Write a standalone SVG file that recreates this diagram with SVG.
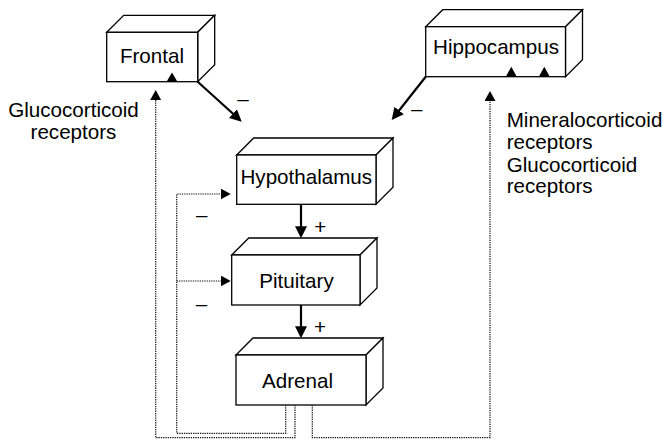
<svg xmlns="http://www.w3.org/2000/svg" width="665" height="440" viewBox="0 0 665 440">
  <style>
    .face { fill: #fff; stroke: #000; stroke-width: 1.3; stroke-linejoin: miter; }
    .label { font-family: "Liberation Sans", Arial, sans-serif; font-size: 20.6px; fill: #000; }
    .note { font-family: "Liberation Sans", Arial, sans-serif; font-size: 20.6px; fill: #000; }
    .solid { fill: none; stroke: #000; stroke-width: 2.2; }
    .dotted { fill: none; stroke: #111; stroke-width: 1.2; stroke-dasharray: 1.3 1; }
    .receptor { fill: #000; }
  </style>
  <defs>
    <marker id="headSolid" markerUnits="userSpaceOnUse" markerWidth="12" markerHeight="12" refX="1" refY="6" orient="auto">
      <path d="M0,0 L12,6 L0,12 z" fill="#000"/>
    </marker>
    <marker id="headDotted" markerUnits="userSpaceOnUse" markerWidth="10" markerHeight="11" refX="1" refY="5.5" orient="auto">
      <path d="M0,0 L10,5.5 L0,11 z" fill="#000"/>
    </marker>
  </defs>

  <!-- Frontal -->
  <g id="frontal">
    <polygon class="face" points="106.7,32.3 123.7,15.3 214.7,15.3 197.7,32.3"/>
    <polygon class="face" points="197.7,32.3 214.7,15.3 214.7,64.7 197.7,81.7"/>
    <rect class="face" x="106.7" y="32.3" width="91" height="49.4"/>
    <text class="label" x="152" y="62.5" text-anchor="middle">Frontal</text>
    <polygon class="receptor" points="166.5,81.7 172,72.5 177.5,81.7"/>
  </g>

  <!-- Hippocampus -->
  <g id="hippocampus">
    <polygon class="face" points="425.7,26.7 442.7,9.7 582.5,9.7 565.5,26.7"/>
    <polygon class="face" points="565.5,26.7 582.5,9.7 582.5,59.7 565.5,76.7"/>
    <rect class="face" x="425.7" y="26.7" width="139.8" height="50"/>
    <text class="label" x="496" y="53.5" text-anchor="middle">Hippocampus</text>
    <polygon class="receptor" points="505.8,76.7 511.3,66.7 516.8,76.7"/>
    <polygon class="receptor" points="538.8,76.7 544.3,66.7 549.8,76.7"/>
  </g>

  <!-- Hypothalamus -->
  <g id="hypothalamus">
    <polygon class="face" points="236.7,155 253.7,138 393,138 376,155"/>
    <polygon class="face" points="376,155 393,138 393,187.3 376,204.3"/>
    <rect class="face" x="236.7" y="155" width="139.3" height="49.3"/>
    <text class="label" x="306.3" y="183.5" text-anchor="middle">Hypothalamus</text>
  </g>

  <!-- Pituitary -->
  <g id="pituitary">
    <polygon class="face" points="231.7,255 248.7,238 377,238 360,255"/>
    <polygon class="face" points="360,255 377,238 377,288 360,305"/>
    <rect class="face" x="231.7" y="255" width="128.3" height="50"/>
    <text class="label" x="296.5" y="287.5" text-anchor="middle">Pituitary</text>
  </g>

  <!-- Adrenal -->
  <g id="adrenal">
    <polygon class="face" points="236,355 253,338 383,338 366,355"/>
    <polygon class="face" points="366,355 383,338 383,388 366,405"/>
    <rect class="face" x="236" y="355" width="130" height="50"/>
    <text class="label" x="297.5" y="387.5" text-anchor="middle">Adrenal</text>
  </g>

  <!-- Connectors -->
  <g id="connectors">
    <!-- inhibitory inputs from cortex -->
    <line class="solid" x1="197.7" y1="81.7" x2="233.6" y2="114.3" marker-end="url(#headSolid)"/>
    <line class="solid" x1="425.7" y1="76.7" x2="398.5" y2="111.3" marker-end="url(#headSolid)"/>
    <!-- stimulatory axis -->
    <line class="solid" x1="301" y1="204.3" x2="301" y2="227.3" marker-end="url(#headSolid)"/>
    <line class="solid" x1="301" y1="305" x2="301" y2="327.3" marker-end="url(#headSolid)"/>
    <!-- glucocorticoid feedback loops -->
    <path class="dotted" d="M285.7,405 V433.3 H176.7 V194 H221.7" marker-end="url(#headDotted)"/>
    <path class="dotted" d="M176.7,281 H221.7" marker-end="url(#headDotted)"/>
    <path class="dotted" d="M295,405 V437.7 H155.7 V99" marker-end="url(#headDotted)"/>
    <path class="dotted" d="M312.3,405 V437.7 H490 V100" marker-end="url(#headDotted)"/>
    <!-- signs -->
    <text class="label" x="243" y="105.5" text-anchor="middle">–</text>
    <text class="label" x="416.7" y="115.5" text-anchor="middle">–</text>
    <text class="label" x="201.7" y="222" text-anchor="middle">–</text>
    <text class="label" x="201.4" y="310.5" text-anchor="middle">–</text>
    <text class="label" x="320.3" y="234" text-anchor="middle">+</text>
    <text class="label" x="320" y="333.5" text-anchor="middle">+</text>
  </g>

  <!-- receptor annotations -->
  <g id="notes">
    <text class="note" x="73.5" y="117.3" text-anchor="middle">Glucocorticoid</text>
    <text class="note" x="73.5" y="139" text-anchor="middle">receptors</text>
    <text class="note" x="506.7" y="126.7">Mineralocorticoid</text>
    <text class="note" x="506.7" y="148.5">receptors</text>
    <text class="note" x="506.7" y="171.5">Glucocorticoid</text>
    <text class="note" x="506.7" y="193.3">receptors</text>
  </g>
</svg>
